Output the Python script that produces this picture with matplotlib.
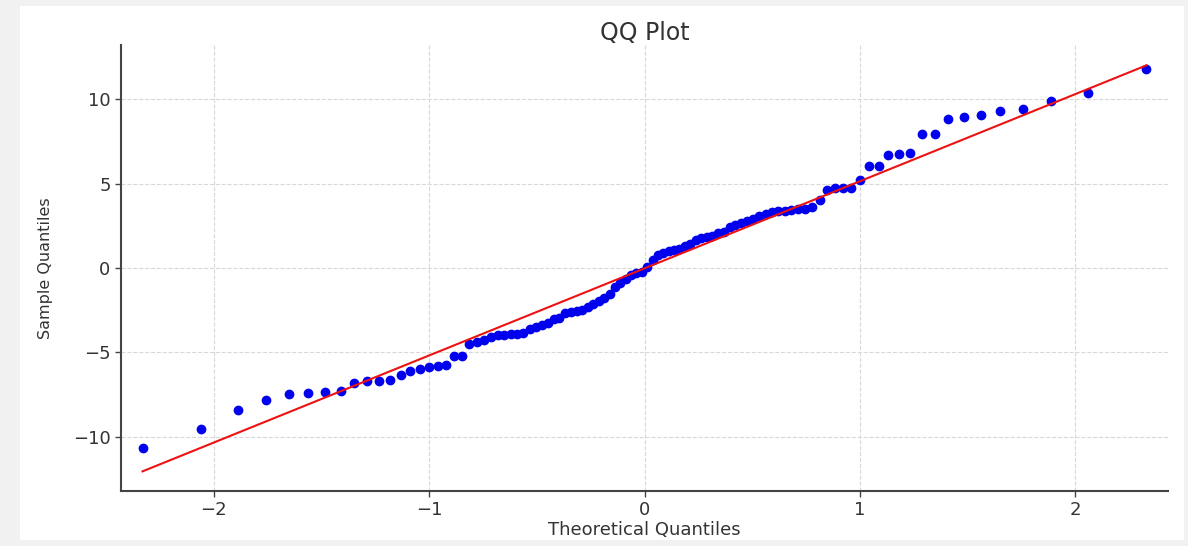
import numpy as np
import matplotlib
matplotlib.use("Agg")
import matplotlib.pyplot as plt
from matplotlib.patches import Rectangle
from statistics import NormalDist

# Sorted sample values (n = 100)
sample_values = [
    -10.66, -9.53, -8.42, -7.83, -7.43, -7.39, -7.35, -7.28, -6.83, -6.68,
    -6.68, -6.65, -6.31, -6.08, -5.97, -5.85, -5.78, -5.72, -5.22, -5.22,
    -4.50, -4.38, -4.27, -4.08, -3.99, -3.95, -3.93, -3.90, -3.84, -3.60,
    -3.48, -3.38, -3.24, -3.02, -2.95, -2.68, -2.60, -2.56, -2.48, -2.30,
    -2.12, -1.95, -1.75, -1.55, -1.10, -0.88, -0.68, -0.40, -0.28, -0.22,
    0.05, 0.45, 0.75, 0.88, 0.98, 1.05, 1.15, 1.30, 1.42, 1.65,
    1.75, 1.82, 1.92, 2.05, 2.15, 2.40, 2.55, 2.68, 2.80, 2.92,
    3.10, 3.22, 3.30, 3.35, 3.38, 3.42, 3.48, 3.50, 3.62, 4.00,
    4.62, 4.72, 4.74, 4.76, 5.22, 6.02, 6.04, 6.66, 6.72, 6.78,
    7.94, 7.96, 8.83, 8.95, 9.08, 9.28, 9.44, 9.87, 10.33, 11.80,
]
x_ticks = [-2, -1, 0, 1, 2]
y_ticks = [-10, -5, 0, 5, 10]
title = "QQ Plot"
x_label = "Theoretical Quantiles"
y_label = "Sample Quantiles"

y = np.array(sample_values)
n = len(y)
nd = NormalDist()
theoretical = np.array([nd.inv_cdf(i / (n + 1)) for i in range(1, n + 1)])

# standardized reference line (mean + std * x)
slope = y.std()
intercept = y.mean()

W, H = 1188, 546
fig = plt.figure(figsize=(W / 100, H / 100), dpi=100, facecolor="#f1f1f1")
fig.patches.append(Rectangle((20 / W, 6 / H), (1184 - 20) / W, (540 - 6) / H,
                             transform=fig.transFigure, facecolor="white",
                             edgecolor="none", zorder=-10))
ax = fig.add_axes([121 / W, 1 - 491 / H, (1168 - 121) / W, (491 - 45) / H])
ax.set_zorder(1)
ax.set_facecolor("white")

ax.plot(theoretical, y, linestyle="none", marker="o", markersize=6,
        markerfacecolor="#0000ee", markeredgecolor="#0000ee", zorder=3)
xl = np.array([theoretical.min(), theoretical.max()])
ax.plot(xl, intercept + slope * xl, color="#ee1111", linewidth=1.5, zorder=4)

ax.set_xlim(-2.43, 2.43)
ax.set_ylim(-13.2, 13.2)
ax.set_xticks(x_ticks)
ax.set_yticks(y_ticks)
ax.grid(True, linestyle="--", color="#d8d8d8", linewidth=0.8)
ax.set_axisbelow(True)
for s in ["top", "right"]:
    ax.spines[s].set_visible(False)
for s in ["left", "bottom"]:
    ax.spines[s].set_color("#444444")
    ax.spines[s].set_linewidth(1.5)
ax.tick_params(axis="both", colors="#444444", labelcolor="#333333",
               labelsize=13, length=4, width=1)

ax.set_title(title, fontsize=17, color="#333333", pad=3)
ax.set_xlabel(x_label, fontsize=13, color="#333333", labelpad=1)
ax.set_ylabel(y_label, fontsize=11.5, color="#333333", labelpad=14)

fig.savefig("out.png", dpi=100, facecolor=fig.get_facecolor())
